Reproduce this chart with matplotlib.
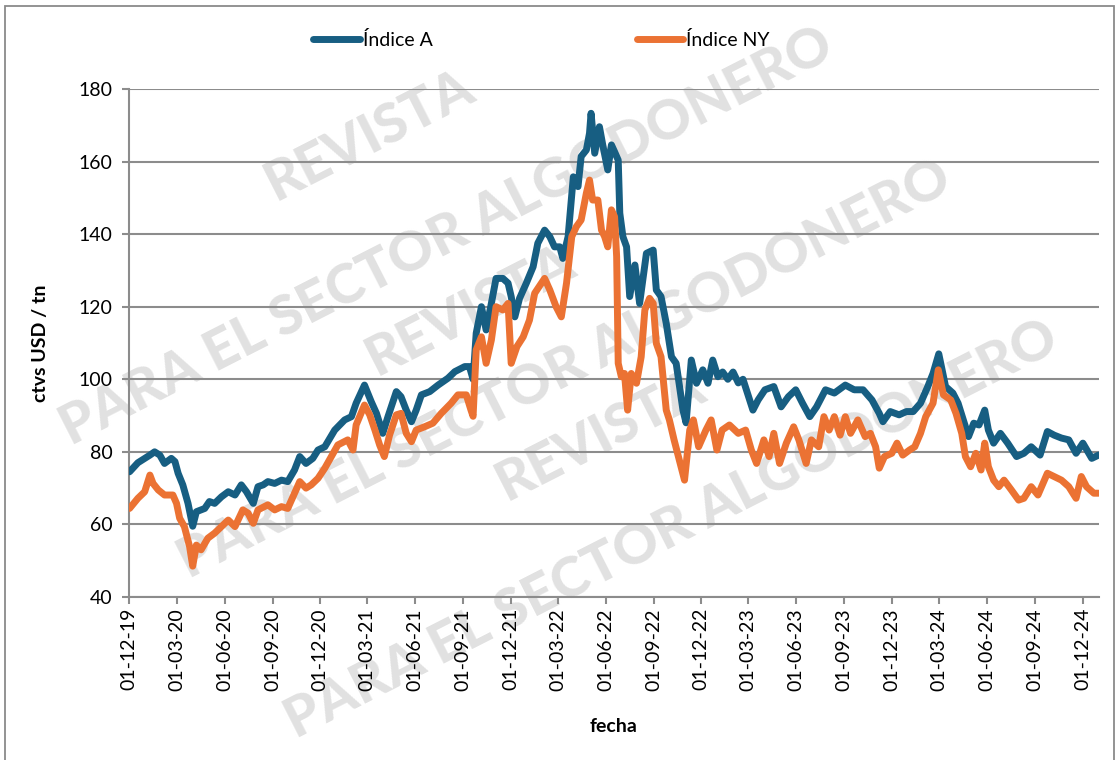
import numpy as np
import pandas as pd
import matplotlib
matplotlib.use("Agg")
import matplotlib.pyplot as plt
import matplotlib.dates as mdates
from matplotlib.patches import Rectangle

# ---------------------------------------------------------------- DATA
fecha_a = ["2019-12-02", "2019-12-18", "2020-01-10", "2020-01-19", "2020-01-29", "2020-02-07", "2020-02-20",
           "2020-02-27", "2020-03-04", "2020-03-13", "2020-03-23", "2020-04-01", "2020-04-08", "2020-04-24",
           "2020-05-03", "2020-05-13", "2020-05-26", "2020-06-08", "2020-06-21", "2020-07-03", "2020-07-13",
           "2020-07-26", "2020-08-04", "2020-08-14", "2020-08-23", "2020-09-05", "2020-09-18", "2020-09-30",
           "2020-10-13", "2020-10-23", "2020-11-04", "2020-11-17", "2020-11-27", "2020-12-10", "2020-12-29",
           "2021-01-17", "2021-01-30", "2021-02-08", "2021-02-24", "2021-03-09", "2021-03-19", "2021-03-31",
           "2021-04-10", "2021-04-26", "2021-05-05", "2021-05-15", "2021-05-25", "2021-06-03", "2021-06-13",
           "2021-06-29", "2021-07-15", "2021-08-03", "2021-08-16", "2021-09-04", "2021-09-13", "2021-09-20",
           "2021-09-26", "2021-10-06", "2021-10-15", "2021-10-25", "2021-11-03", "2021-11-16", "2021-11-26",
           "2021-12-02", "2021-12-09", "2021-12-18", "2021-12-31", "2022-01-13", "2022-01-22", "2022-02-04",
           "2022-02-14", "2022-02-23", "2022-03-05", "2022-03-11", "2022-03-21", "2022-03-31", "2022-04-09",
           "2022-04-15", "2022-04-25", "2022-05-01", "2022-05-04", "2022-05-11", "2022-05-20", "2022-05-27",
           "2022-06-05", "2022-06-12", "2022-06-18", "2022-06-25", "2022-06-28", "2022-07-04", "2022-07-11",
           "2022-07-17", "2022-07-27", "2022-08-05", "2022-08-12", "2022-08-18", "2022-08-31", "2022-09-06",
           "2022-09-15", "2022-09-25", "2022-10-05", "2022-10-14", "2022-10-27", "2022-11-02", "2022-11-12",
           "2022-11-22", "2022-12-04", "2022-12-14", "2022-12-23", "2023-01-02", "2023-01-11", "2023-01-21",
           "2023-01-31", "2023-02-10", "2023-02-19", "2023-02-28", "2023-03-10", "2023-03-20", "2023-04-02",
           "2023-04-19", "2023-05-03", "2023-05-17", "2023-05-31", "2023-06-13", "2023-06-27", "2023-07-10",
           "2023-07-27", "2023-08-13", "2023-09-03", "2023-09-20", "2023-10-07", "2023-10-24", "2023-11-07",
           "2023-11-14", "2023-11-28", "2023-12-15", "2023-12-29", "2024-01-11", "2024-01-25", "2024-02-08",
           "2024-02-18", "2024-02-29", "2024-03-13", "2024-03-27", "2024-04-06", "2024-04-16", "2024-04-26",
           "2024-05-06", "2024-05-16", "2024-05-27", "2024-06-03", "2024-06-13", "2024-06-26", "2024-07-10",
           "2024-07-27", "2024-08-10", "2024-08-24", "2024-09-10", "2024-09-24", "2024-10-07", "2024-10-21",
           "2024-11-04", "2024-11-18", "2024-12-01", "2024-12-18", "2024-12-31"]
indice_a = [74.5, 77.0, 79.1, 80.0, 79.1, 76.8, 78.2,
            77.3, 74.1, 70.9, 65.8, 59.5, 63.5, 64.4,
            66.3, 65.8, 67.6, 69.0, 68.1, 70.9, 69.0,
            65.8, 70.4, 70.9, 71.8, 71.3, 72.2, 71.8,
            75.0, 78.7, 76.8, 78.2, 80.5, 81.4, 86.0,
            88.8, 89.7, 93.4, 98.4, 93.8, 90.6, 85.1,
            89.7, 96.6, 95.2, 91.5, 88.3, 91.5, 95.7,
            96.6, 98.4, 100.3, 102.1, 103.5, 103.5, 100.0,
            112.7, 120.0, 113.6, 120.9, 127.8, 127.8, 126.5,
            122.8, 117.2, 122.3, 126.5, 131.0, 137.5, 141.1,
            139.3, 136.5, 136.5, 133.3, 139.3, 155.8, 153.1,
            161.4, 163.2, 167.8, 173.3, 162.3, 169.6, 164.1,
            157.7, 164.6, 162.7, 160.4, 145.8, 139.3, 136.5,
            122.8, 131.5, 120.9, 128.3, 134.7, 135.6, 124.6,
            122.8, 115.4, 106.2, 104.4, 91.5, 88.0, 105.3,
            98.9, 102.6, 98.9, 105.3, 100.7, 102.0, 100.0,
            102.0, 99.0, 100.0, 96.0, 91.5, 94.3, 97.1,
            98.0, 92.4, 95.2, 97.1, 93.4, 89.7, 92.4,
            97.1, 96.2, 98.4, 97.1, 97.1, 94.3, 90.6,
            88.3, 91.1, 90.2, 91.1, 91.1, 93.4, 98.0,
            101.6, 107.0, 98.0, 96.2, 93.4, 88.8, 84.2,
            87.9, 87.4, 91.5, 86.0, 82.4, 85.1, 82.4,
            78.7, 79.6, 81.4, 79.1, 85.6, 84.6, 83.8,
            83.3, 79.6, 82.4, 78.2, 79.1]

fecha_ny = ["2019-12-02", "2019-12-18", "2019-12-31", "2020-01-10", "2020-01-16", "2020-01-26", "2020-02-07",
            "2020-02-23", "2020-03-01", "2020-03-07", "2020-03-16", "2020-03-26", "2020-04-01", "2020-04-08",
            "2020-04-17", "2020-04-30", "2020-05-13", "2020-05-26", "2020-06-08", "2020-06-21", "2020-07-06",
            "2020-07-16", "2020-07-26", "2020-08-04", "2020-08-23", "2020-09-05", "2020-09-18", "2020-09-30",
            "2020-10-10", "2020-10-23", "2020-11-04", "2020-11-14", "2020-11-27", "2020-12-10", "2021-01-04",
            "2021-01-23", "2021-02-02", "2021-02-08", "2021-02-24", "2021-03-06", "2021-03-16", "2021-03-25",
            "2021-04-03", "2021-04-13", "2021-04-26", "2021-05-05", "2021-05-15", "2021-05-25", "2021-06-03",
            "2021-06-19", "2021-07-05", "2021-07-21", "2021-08-09", "2021-08-22", "2021-09-07", "2021-09-16",
            "2021-09-20", "2021-09-26", "2021-10-06", "2021-10-15", "2021-10-25", "2021-11-03", "2021-11-16",
            "2021-11-26", "2021-12-02", "2021-12-13", "2021-12-25", "2022-01-06", "2022-01-16", "2022-02-04",
            "2022-02-14", "2022-02-26", "2022-03-08", "2022-03-18", "2022-03-28", "2022-04-06", "2022-04-15",
            "2022-04-25", "2022-05-01", "2022-05-07", "2022-05-17", "2022-05-24", "2022-05-30", "2022-06-05",
            "2022-06-12", "2022-06-18", "2022-06-22", "2022-06-25", "2022-07-01", "2022-07-07", "2022-07-13",
            "2022-07-20", "2022-07-30", "2022-08-08", "2022-08-15", "2022-08-24", "2022-08-31", "2022-09-06",
            "2022-09-15", "2022-09-25", "2022-10-01", "2022-10-10", "2022-10-20", "2022-10-30", "2022-11-09",
            "2022-11-16", "2022-11-26", "2022-12-10", "2022-12-20", "2022-12-31", "2023-01-10", "2023-01-24",
            "2023-02-10", "2023-02-24", "2023-03-07", "2023-03-17", "2023-03-31", "2023-04-10", "2023-04-19",
            "2023-04-30", "2023-05-13", "2023-05-27", "2023-06-06", "2023-06-20", "2023-06-30", "2023-07-14",
            "2023-07-24", "2023-08-03", "2023-08-13", "2023-08-24", "2023-09-03", "2023-09-13", "2023-09-27",
            "2023-10-11", "2023-10-21", "2023-10-31", "2023-11-07", "2023-11-17", "2023-12-01", "2023-12-11",
            "2023-12-22", "2024-01-04", "2024-01-14", "2024-01-25", "2024-02-04", "2024-02-18", "2024-02-28",
            "2024-03-09", "2024-03-23", "2024-04-02", "2024-04-13", "2024-04-20", "2024-04-30", "2024-05-10",
            "2024-05-20", "2024-05-27", "2024-06-03", "2024-06-13", "2024-06-23", "2024-07-03", "2024-07-17",
            "2024-07-31", "2024-08-10", "2024-08-24", "2024-09-06", "2024-09-24", "2024-10-07", "2024-10-21",
            "2024-11-04", "2024-11-18", "2024-11-28", "2024-12-08", "2024-12-22", "2024-12-31"]
indice_ny = [64.4, 67.2, 69.0, 73.6, 71.3, 69.5, 68.1,
             68.1, 65.8, 61.7, 59.4, 53.9, 48.5, 54.3,
             53.0, 56.2, 57.6, 59.4, 61.2, 59.4, 64.0,
             63.1, 60.3, 64.0, 65.4, 64.0, 64.9, 64.4,
             67.6, 71.8, 70.0, 70.9, 72.7, 75.5, 81.9,
             83.3, 80.5, 87.4, 92.9, 90.2, 86.0, 81.9,
             78.7, 84.6, 90.2, 90.6, 85.1, 82.8, 86.0,
             86.9, 87.9, 90.6, 93.4, 95.7, 95.7, 91.5,
             89.8, 108.1, 111.7, 104.4, 110.8, 120.0, 119.1,
             120.9, 104.4, 109.0, 111.7, 116.3, 123.7, 127.8,
             124.6, 120.0, 117.2, 126.5, 139.3, 142.1, 143.9,
             151.3, 154.9, 149.4, 149.4, 141.1, 139.3, 136.5,
             146.7, 144.8, 133.8, 104.4, 100.7, 101.6, 91.5,
             101.6, 98.9, 106.2, 119.1, 122.3, 120.9, 109.9,
             106.2, 91.5, 88.8, 83.3, 77.8, 72.2, 86.0,
             88.8, 81.4, 86.0, 88.8, 80.5, 86.0, 87.4,
             85.1, 86.0, 80.5, 76.8, 83.3, 78.7, 85.1,
             76.8, 82.4, 86.9, 83.3, 76.8, 83.3, 81.4,
             89.7, 86.0, 89.7, 84.6, 89.7, 85.1, 88.8,
             84.2, 85.1, 81.4, 75.5, 78.7, 79.6, 82.4,
             79.1, 80.5, 81.4, 85.1, 89.7, 93.4, 102.6,
             95.7, 94.3, 90.6, 85.1, 78.7, 75.9, 79.6,
             75.0, 82.4, 75.9, 72.2, 70.4, 72.2, 69.5,
             66.7, 67.2, 70.4, 68.1, 74.1, 73.2, 72.2,
             70.4, 67.2, 73.2, 70.4, 68.6, 68.6]

marca_agua = ["REVISTA", "PARA EL SECTOR ALGODONERO", "REVISTA",
              "PARA EL SECTOR ALGODONERO", "REVISTA", "PARA EL SECTOR ALGODONERO"]

# ---------------------------------------------------------------- PLOT
plt.rcParams['font.family'] = ['Lato', 'DejaVu Sans']
azul = '#175e82'
naranja = '#eb7233'
gris = '#8c8c8c'

fig = plt.figure(figsize=(11.2, 7.6), dpi=100)
ax = fig.add_axes([0.1152, 0.2145, 0.8661, 0.6684])
ax.set_facecolor('none')

# watermark behind the axes
wm_pos = [(0.330, 0.822), (0.399, 0.688), (0.420, 0.592), (0.504, 0.513), (0.536, 0.428), (0.600, 0.303)]
for (px, py), txt in zip(wm_pos, marca_agua):
    fig.text(px, py, txt, fontsize=40, fontweight='black', color='#e1e1e1', rotation=27,
             ha='center', va='center', zorder=-1)

fig.patches.append(Rectangle((0.0045, -0.01), 0.99, 1.002, transform=fig.transFigure,
                             fill=False, edgecolor='#8a8a8a', linewidth=1.3))

xa = pd.to_datetime(fecha_a)
xny = pd.to_datetime(fecha_ny)
ax.plot(xa, indice_a, color=azul, lw=5, solid_capstyle='round', solid_joinstyle='round', label='Índice A', zorder=3)
ax.plot(xny, indice_ny, color=naranja, lw=5, solid_capstyle='round', solid_joinstyle='round', label='Índice NY', zorder=4)

ax.set_xlim(pd.Timestamp('2019-12-01'), pd.Timestamp('2025-01-01'))
ax.set_ylim(40, 180)
ax.set_yticks(np.arange(40, 181, 20))
ax.xaxis.set_major_locator(mdates.MonthLocator(bymonth=[3, 6, 9, 12]))
ax.xaxis.set_major_formatter(mdates.DateFormatter('%d-%m-%y'))
plt.setp(ax.get_xticklabels(), rotation=90)

ax.grid(axis='y', color=gris, lw=1.5, zorder=1)
ax.set_axisbelow(True)
for s in ['top', 'right']:
    ax.spines[s].set_visible(False)
for s in ['left', 'bottom']:
    ax.spines[s].set_color(gris)
    ax.spines[s].set_linewidth(1.5)
ax.tick_params(axis='both', colors=gris, labelcolor='black', labelsize=14, width=1.5, length=5)
ax.tick_params(axis='y', pad=7)
ax.tick_params(axis='x', pad=3)

ax.set_ylabel('ctvs USD / tn', fontsize=14, fontweight='bold')
ax.yaxis.set_label_coords(-0.083, 0.5)
ax.set_xlabel('fecha', fontsize=14, fontweight='bold')
ax.xaxis.set_label_coords(0.5, -0.238)

fig.legend(loc='center', bbox_to_anchor=(0.4835, 0.947), ncol=2, frameon=False, fontsize=14,
           handlelength=2.4, handletextpad=0.15, columnspacing=10.5)

fig.savefig('out.png', dpi=100)
